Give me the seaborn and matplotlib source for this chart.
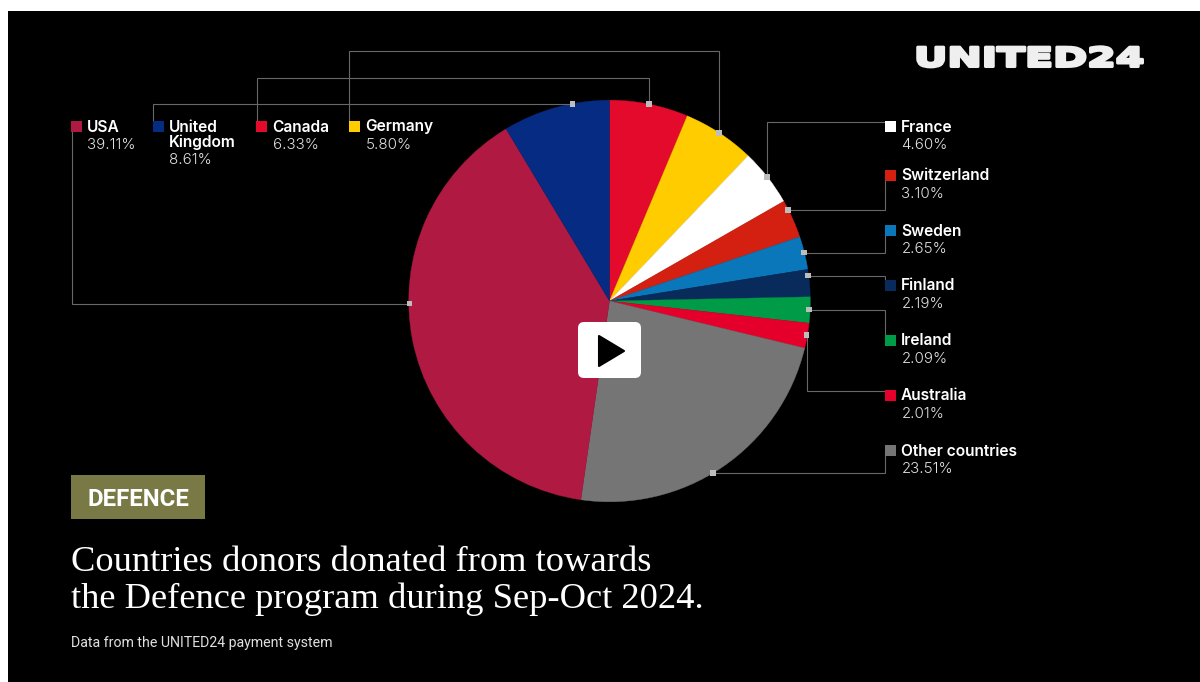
import matplotlib
matplotlib.use("Agg")
import matplotlib.pyplot as plt
import matplotlib.patheffects as pe
from matplotlib.patches import Rectangle, FancyBboxPatch, Polygon
from matplotlib.transforms import Affine2D
import seaborn as sns

# Donor shares, in clockwise wedge order starting from twelve o'clock
countries = ["Canada", "Germany", "France", "Switzerland", "Sweden", "Finland",
             "Ireland", "Australia", "Other countries", "USA", "United\nKingdom"]
shares = [6.33, 5.80, 4.60, 3.10, 2.65, 2.19, 2.09, 2.01, 23.51, 39.11, 8.61]
colors = ["#E30A2C", "#FFCC00", "#FFFFFF", "#D32011", "#0A77BA", "#082B5B",
          "#009B46", "#E5002C", "#757575", "#B01942", "#052B82"]

# Key swatch position (left, top) in pixels
swatches = [(256, 121), (349, 121), (885, 121), (885, 170), (885, 225), (885, 280),
            (885, 334.5), (885, 390), (885, 445), (71, 121), (153, 121)]
# Elbow connectors from each swatch to its wedge; the last vertex carries the dot
leaders = [
    [(256.5, 121), (256.5, 77.5), (649, 77.5), (649, 104)],
    [(349, 121), (349, 51), (719, 51), (719, 133)],
    [(885, 121.5), (767, 121.5), (767, 177)],
    [(885, 175), (885, 210), (788, 210)],
    [(885, 230), (885, 252.5), (804, 252.5)],
    [(885, 285), (885, 275.5), (808, 275.5)],
    [(885, 340), (885, 309.5), (809, 309.5)],
    [(885, 390.5), (806.5, 390.5), (806.5, 335)],
    [(885, 450), (885, 473), (713, 473)],
    [(72, 130), (72, 303.5), (409.5, 303.5)],
    [(153, 121), (153, 104), (572.5, 104)],
]

W, H = 1200, 682
sns.set_theme(style="dark")
plt.rcParams["font.family"] = ["Inter", "DejaVu Sans"]


def Y(py):
    return H - py


def pt(px):
    return px * 72 / 100


class WideBold(pe.AbstractPathEffect):
    """Widen glyph outlines about a fixed x position and thicken their strokes."""

    def __init__(self, x0, factor, stroke, color):
        super().__init__()
        self.x0, self.factor, self.stroke, self.color = x0, factor, stroke, color

    def draw_path(self, renderer, gc, tpath, affine, rgbFace=None):
        wide = affine + Affine2D().translate(-self.x0, 0).scale(self.factor, 1).translate(self.x0, 0)
        gc0 = renderer.new_gc()
        gc0.copy_properties(gc)
        gc0.set_linewidth(self.stroke)
        gc0.set_foreground(self.color)
        renderer.draw_path(gc0, tpath, wide, rgbFace)
        gc0.restore()


fig = plt.figure(figsize=(W / 100, H / 100), dpi=100, facecolor="white")
ax = fig.add_axes([0, 0, 1, 1])
ax.set_facecolor("white")

ax.add_patch(Rectangle((8, 0), W - 8, H - 11, fc="black", ec="none", zorder=0))

palette = sns.color_palette(colors)
wedges, _ = ax.pie(shares, colors=palette, startangle=90, counterclock=False,
                   center=(609.5, Y(301)), radius=200.8, frame=True,
                   wedgeprops={"linewidth": 0, "zorder": 2})
# A hairline in each wedge's own colour closes the seams between neighbours
for wedge, color in zip(wedges, palette):
    wedge.set_edgecolor(color)
    wedge.set_linewidth(0.25)
ax.set_xlim(0, W)
ax.set_ylim(0, H)
ax.set_aspect("auto")
ax.set_xticks([])
ax.set_yticks([])
for s in ax.spines.values():
    s.set_visible(False)
ax.grid(False)

for path in leaders:
    ax.plot([p[0] for p in path], [Y(p[1]) for p in path], color="#686868",
            lw=pt(1.1), solid_joinstyle="miter", zorder=3)
    ex, ey = path[-1]
    ax.add_patch(Rectangle((ex - 2.75, Y(ey) - 2.75), 5.5, 5.5, fc="#BDBDBD", ec="none", zorder=4))

for name, value, color, (sx, sy) in zip(countries, shares, palette, swatches):
    ax.add_patch(Rectangle((sx, Y(sy + 11)), 11, 11, fc=color, ec="none", zorder=4))
    tx = sx + 16
    lines = name.split("\n")
    base = sy + 10.5
    for i, line in enumerate(lines):
        ax.text(tx, Y(base + 15 * i), line, color="white", fontsize=pt(15.5),
                fontweight=600, va="baseline", ha="left", zorder=5)
    ax.text(tx + 0.5, Y(base + 15 * (len(lines) - 1) + 17.8), f"{value:.2f}%", color="#E2E2E2",
            fontsize=pt(15), fontweight=300, va="baseline", ha="left", zorder=5)

# Play button
ax.add_patch(FancyBboxPatch((583, Y(373)), 53, 46, boxstyle="round,pad=5,rounding_size=6",
                            fc="white", ec="none", zorder=6))
ax.add_patch(Polygon([(599, Y(336)), (599, Y(366)), (624, Y(351))], closed=True,
                     fc="black", ec="black", lw=1.5, joinstyle="round", zorder=7))

# Programme tag
ax.add_patch(Rectangle((71, Y(519)), 134, 44, fc="#797945", ec="none", zorder=4))
ax.text(138, Y(506), "DEFENCE", color="white", fontsize=pt(24), fontweight="bold",
        family="Roboto", ha="center", va="baseline", zorder=5)

# Headline and source note
ax.text(71, Y(571), "Countries donors donated from towards", color="white",
        fontsize=pt(36.5), family="Liberation Serif", va="baseline", zorder=5)
ax.text(71, Y(608.5), "the Defence program during Sep-Oct 2024.", color="white",
        fontsize=pt(36.5), family="Liberation Serif", va="baseline", zorder=5)
ax.text(71, Y(647), "Data from the UNITED24 payment system", color="#E0E0E0",
        fontsize=pt(14.1), family="Roboto", va="baseline", zorder=5)

# Wordmark
ax.text(914, Y(66.5), "UNITED24", color="#EFEFEF", fontsize=pt(26.5), family="DejaVu Sans",
        fontweight="bold", va="baseline", ha="left", zorder=5,
        path_effects=[WideBold(914, 1.55, 2.2, "#EFEFEF")])

fig.savefig("out.png", dpi=100, facecolor="white")
